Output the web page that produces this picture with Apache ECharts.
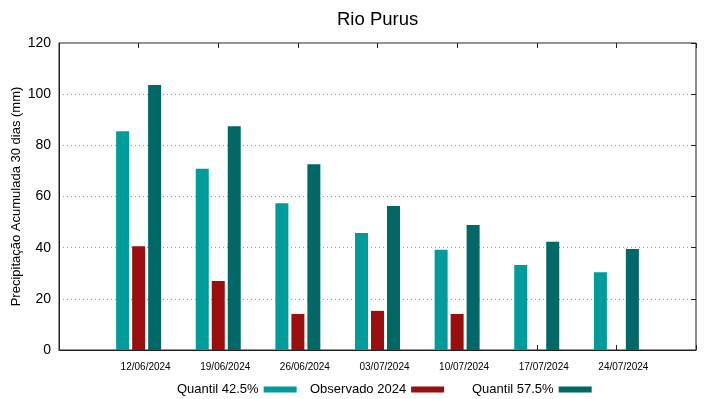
<!DOCTYPE html>
<html>
<head>
<meta charset="utf-8">
<script src="https://cdn.jsdelivr.net/npm/echarts@6/dist/echarts.min.js"></script>
<style>
  html, body { margin: 0; padding: 0; background: #fff; }
  #grafico { width: 719px; height: 399px; }
</style>
</head>
<body>
<div id="grafico"></div>
<script>
// Datas das semanas
const datas = ['12/06/2024', '19/06/2024', '26/06/2024', '03/07/2024', '10/07/2024', '17/07/2024', '24/07/2024'];

// Valores (mm)
const quantil425 = [85.5, 70.8, 57.4, 45.7, 39.2, 33.2, 30.4];
const observado2024 = [40.6, 27.0, 14.1, 15.3, 14.1, null, null];
const quantil575 = [103.6, 87.5, 72.6, 56.3, 48.9, 42.3, 39.5];

// Rótulos do eixo y
const rotulosY = [0, 20, 40, 60, 80, 100, 120];

// categorias vazias nas pontas, como no gnuplot
const categorias = [''].concat(datas, ['']);
const comPontas = arr => [null].concat(arr, [null]);

const fonte = 'Liberation Sans, Arial, sans-serif';
const chart = echarts.init(document.getElementById('grafico'));

const legenda = (nome, esquerda) => ({
    data: [nome],
    left: esquerda,
    top: 378,
    align: 'right',
    icon: 'rect',
    itemWidth: 33,
    itemHeight: 6,
    itemGap: 8,
    textStyle: { fontFamily: fonte, fontSize: 13, color: '#000' }
});

const option = {
    animation: false,
    title: {
        text: 'Rio Purus',
        left: 332,
        top: 5,
        textStyle: { fontFamily: fonte, fontSize: 18.5, fontWeight: 'normal', color: '#000' }
    },
    legend: [
        legenda('Quantil 42.5%', 172),
        legenda('Observado 2024', 305),
        legenda('Quantil 57.5%', 467)
    ],
    grid: {
        left: 59, right: 23, top: 43, bottom: 49,
        outerBoundsMode: 'none',
        containLabel: false,
        show: true, borderColor: '#222', borderWidth: 1
    },
    xAxis: [
        {
            type: 'category',
            data: categorias,
            boundaryGap: false,
            position: 'bottom',
            axisLine: { onZero: false, lineStyle: { color: '#222' } },
            axisTick: { inside: true, length: 5, lineStyle: { color: '#222' } },
            axisLabel: {
                fontFamily: fonte, fontSize: 10, color: '#000', margin: 12,
                padding: [0, 0, 0, 14], interval: 0
            }
        },
        {
            type: 'category',
            data: categorias,
            boundaryGap: false,
            position: 'top',
            axisLine: { show: false, onZero: false },
            axisTick: { inside: true, length: 5, lineStyle: { color: '#222' } },
            axisLabel: { show: false }
        }
    ],
    yAxis: [
        {
            type: 'value',
            min: 0, max: 120, interval: 20,
            name: 'Precipitação Acumulada 30 dias (mm)',
            nameLocation: 'middle',
            nameGap: 36,
            nameMoveOverlap: false,
            nameTextStyle: { fontFamily: fonte, fontSize: 13, color: '#000' },
            axisLine: { show: true, lineStyle: { color: '#222' } },
            axisTick: { show: false },
            axisLabel: {
                fontFamily: fonte, fontSize: 14, color: '#000', margin: 8,
                formatter: v => rotulosY.includes(v) ? String(v) : ''
            },
            splitLine: { show: true, lineStyle: { color: '#999', type: [1, 3], width: 1 } }
        },
        {
            type: 'value',
            min: 0, max: 120, interval: 20,
            position: 'right',
            axisLine: { show: false },
            axisTick: { show: true, inside: true, length: 5, lineStyle: { color: '#222' } },
            axisLabel: { show: false },
            splitLine: { show: false }
        }
    ],
    series: [
        {
            name: 'Quantil 42.5%', type: 'bar',
            data: comPontas(quantil425),
            barWidth: 13, barGap: '23%',
            itemStyle: { color: '#009b9b' }
        },
        {
            name: 'Observado 2024', type: 'bar',
            data: comPontas(observado2024),
            barWidth: 13, barGap: '23%',
            itemStyle: { color: '#9b0e0e' }
        },
        {
            name: 'Quantil 57.5%', type: 'bar',
            data: comPontas(quantil575),
            barWidth: 13, barGap: '23%',
            itemStyle: { color: '#006866' }
        }
    ]
};

chart.setOption(option);
</script>
</body>
</html>
